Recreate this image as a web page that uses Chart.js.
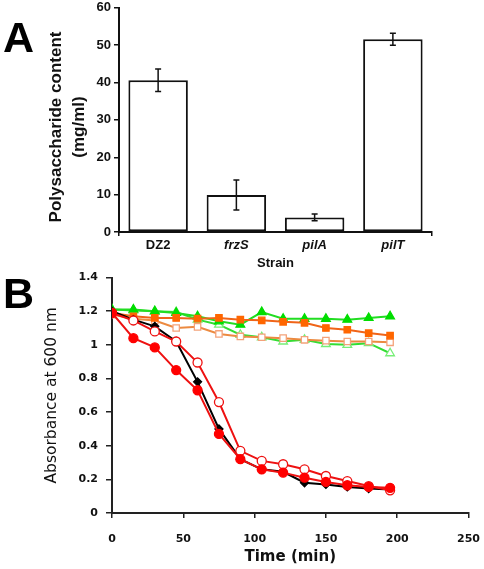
<!DOCTYPE html>
<html><head><meta charset="utf-8">
<script src="https://cdn.jsdelivr.net/npm/chart.js@4.4.0/dist/chart.umd.min.js"></script>
<style>
html,body{margin:0;padding:0;background:#fff;width:484px;height:569px;overflow:hidden;}
#wrap{position:relative;width:484px;height:569px;overflow:hidden;}
canvas{position:absolute;left:0;}
.lbl{position:absolute;font-family:'Liberation Sans',Arial,sans-serif;font-weight:bold;font-size:43px;line-height:43px;color:#000;}
</style></head><body>
<div id="wrap">
<canvas id="cA" width="484" height="293" style="top:-3px;width:484px;height:293px"></canvas>
<canvas id="cB" width="495" height="306" style="top:263px;width:495px;height:306px"></canvas>
<div class="lbl" style="left:3px;top:16px">A</div>
<div class="lbl" style="left:3px;top:272px">B</div>
</div>
<script>
// ---- Panel A data ----
const strains = ['DZ2', 'frzS', 'pilA', 'pilT'];
const polyMean = [40.6, 9.9, 3.9, 51.6];
const polyErr = [3.0, 4.0, 0.9, 1.6];

// ---- Panel B data ----
const times = [0, 15, 30, 45, 60, 75, 90, 105, 120, 135, 150, 165, 180, 195];
const blackDiamond = [1.20, 1.15, 1.11, 1.02, 0.78, 0.50, 0.32, 0.26, 0.245, 0.18, 0.17, 0.155, 0.145, 0.14];
const redFilled = [1.19, 1.04, 0.985, 0.85, 0.73, 0.47, 0.32, 0.26, 0.24, 0.21, 0.185, 0.165, 0.155, 0.15];
const redOpen = [1.19, 1.145, 1.08, 1.02, 0.895, 0.66, 0.37, 0.31, 0.29, 0.26, 0.22, 0.19, 0.16, 0.135];
const orangeFilled = [1.19, 1.17, 1.16, 1.16, 1.156, 1.16, 1.15, 1.146, 1.137, 1.131, 1.10, 1.09, 1.07, 1.055];
const orangeOpen = [1.18, 1.155, 1.145, 1.10, 1.107, 1.065, 1.05, 1.045, 1.04, 1.03, 1.025, 1.02, 1.02, 1.015];
const greenFilled = [1.21, 1.21, 1.20, 1.19, 1.17, 1.14, 1.12, 1.195, 1.155, 1.155, 1.155, 1.15, 1.16, 1.17];
const greenOpen = [1.21, 1.205, 1.20, 1.195, 1.15, 1.12, 1.06, 1.045, 1.02, 1.03, 1.005, 1.00, 1.01, 0.95];

const ARIAL = "'Liberation Sans', Arial, sans-serif";
const VERD = "'DejaVu Sans', Verdana, sans-serif";

// error bar plugin
const errorBars = {
  id: 'errorBars',
  afterDatasetsDraw(chart) {
    const ctx = chart.ctx;
    const meta = chart.getDatasetMeta(0);
    const ys = chart.scales.y;
    ctx.save();
    ctx.strokeStyle = '#111';
    ctx.lineWidth = 1.5;
    meta.data.forEach((bar, i) => {
      const x = bar.x;
      const t = ys.getPixelForValue(polyMean[i] + polyErr[i]);
      const b = ys.getPixelForValue(polyMean[i] - polyErr[i]);
      ctx.beginPath();
      ctx.moveTo(x, t); ctx.lineTo(x, b);
      ctx.moveTo(x - 3, t); ctx.lineTo(x + 3, t);
      ctx.moveTo(x - 3, b); ctx.lineTo(x + 3, b);
      ctx.stroke();
    });
    ctx.restore();
  }
};

new Chart(document.getElementById('cA'), {
  type: 'bar',
  data: {
    labels: strains,
    datasets: [{
      data: polyMean,
      backgroundColor: '#ffffff',
      borderColor: '#111111',
      borderWidth: 2,
      borderSkipped: false,
      barPercentage: 1,
      categoryPercentage: 0.76
    }]
  },
  options: {
    responsive: false,
    devicePixelRatio: 1,
    animation: false,
    layout: { padding: { left: 45, right: 52, top: 0, bottom: 0 } },
    plugins: { legend: { display: false }, tooltip: { enabled: false } },
    scales: {
      x: {
        offset: true,
        grid: {
          offset: true,
          drawOnChartArea: false,
          drawTicks: true,
          tickLength: 4,
          lineWidth: 1.5,
          color: (c) => (c.type === 'scale' || c.index === 0) ? '#111' : 'rgba(0,0,0,0)'
        },
        border: { display: true, color: '#111', width: 2 },
        ticks: {
          color: '#111',
          padding: 2,
          font: (c) => ({ family: ARIAL, size: 13, weight: 'bold', style: c.index > 0 ? 'italic' : 'normal' })
        },
        title: {
          display: true, text: 'Strain', color: '#111',
          font: { family: ARIAL, size: 13, weight: 'bold' },
          padding: { top: 0, bottom: 19 }
        },
        afterFit(s) { s.height = 58; }
      },
      y: {
        min: 0, max: 60,
        ticks: { stepSize: 10, color: '#111', padding: 3, font: { family: ARIAL, size: 13, weight: 'bold' } },
        grid: { drawOnChartArea: false, drawTicks: true, tickLength: 5, color: '#111', lineWidth: 1.5 },
        border: { display: true, color: '#111', width: 2 },
        title: {
          display: true, text: ['Polysaccharide content   ', '(mg/ml)   '], color: '#111',
          font: { family: ARIAL, size: 17, weight: 'bold', lineHeight: 1.35 },
          padding: { top: 0, bottom: 0 }
        },
        afterFit(s) { s.width = 74; }
      }
    }
  },
  plugins: [errorBars]
});

function pts(arr) { return times.map((t, i) => ({ x: t, y: arr[i] })); }

function ds(arr, style, line, border, fill, radius) {
  return {
    data: pts(arr),
    borderColor: line,
    borderWidth: 2,
    pointStyle: style,
    pointRadius: radius,
    pointBorderColor: border,
    pointBackgroundColor: fill,
    pointBorderWidth: 1.3,
    tension: 0,
    fill: false
  };
}

new Chart(document.getElementById('cB'), {
  type: 'line',
  data: {
    datasets: [
      ds(redFilled, 'circle', '#ee1111', '#ff0000', '#ff0000', 4.5),
      ds(redOpen, 'circle', '#ee1111', '#ee1111', '#ffffff', 4.5),
      ds(blackDiamond, 'rectRot', '#000000', '#000000', '#000000', 4),
      ds(orangeFilled, 'rect', '#f06418', '#ff6600', '#ff6600', 4.5),
      ds(orangeOpen, 'rect', '#ec8a40', '#f4a27a', '#ffffff', 4.5),
      ds(greenFilled, 'triangle', '#22dd22', '#00dd00', '#00dd00', 5),
      ds(greenOpen, 'triangle', '#33dd33', '#77ee77', '#ffffff', 5)
    ]
  },
  options: {
    responsive: false,
    devicePixelRatio: 1,
    animation: false,
    layout: { padding: { left: 43, right: 0, top: 0, bottom: 0 } },
    plugins: { legend: { display: false }, tooltip: { enabled: false } },
    scales: {
      x: {
        type: 'linear', min: 0, max: 250,
        ticks: { stepSize: 50, color: '#111', padding: 15, font: { family: VERD, size: 11, weight: 'bold' } },
        grid: { drawOnChartArea: false, drawTicks: true, tickLength: 5, color: '#222', lineWidth: 1.5 },
        border: { display: true, color: '#222', width: 2 },
        title: {
          display: true, text: 'Time (min)', color: '#111',
          font: { family: VERD, size: 15, weight: 'bold' },
          padding: { top: 0, bottom: 3 }
        },
        afterFit(s) { s.height = 56; }
      },
      y: {
        min: 0, max: 1.4,
        ticks: {
          stepSize: 0.2, color: '#111', padding: 8,
          font: { family: VERD, size: 11, weight: 'bold' },
          callback: (v) => String(Number(v.toFixed(1)))
        },
        grid: { drawOnChartArea: false, drawTicks: true, tickLength: 6, color: '#222', lineWidth: 1.5 },
        border: { display: true, color: '#222', width: 2 },
        title: {
          display: true, text: 'Absorbance at 600 nm', color: '#111',
          font: { family: VERD, size: 15.5, weight: 'normal' },
          padding: { top: 0, bottom: 0 }
        },
        afterFit(s) { s.width = 69; }
      }
    }
  }
});
</script>
</body></html>
